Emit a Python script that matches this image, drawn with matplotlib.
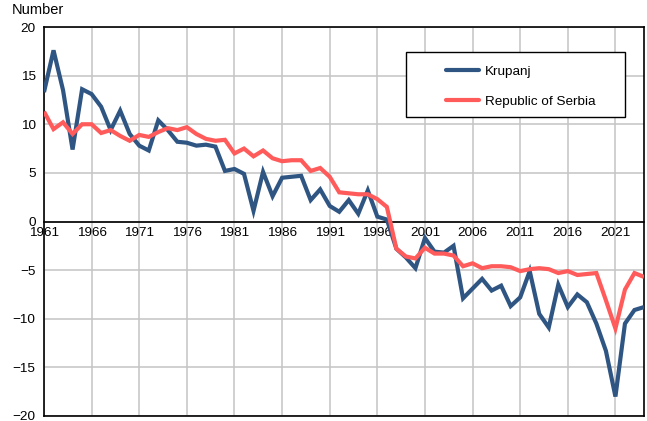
import numpy as np
import matplotlib
matplotlib.use("Agg")
import matplotlib.pyplot as plt
from matplotlib.patches import Rectangle

plt.rcParams["font.family"] = ["Liberation Sans", "DejaVu Sans"]

# ── Data ──────────────────────────────────────────────────────────────────────
years = list(range(1961, 2025))

krupanj = [
    13.3, 17.6, 13.5, 7.4, 13.6, 13.1, 11.8, 9.4, 11.4, 9.0,   # 1961-1970
    7.8, 7.3, 10.4, 9.4, 8.2, 8.1, 7.8, 7.9, 7.7, 5.2,         # 1971-1980
    5.4, 4.9, 1.1, 5.1, 2.6, 4.5, 4.6, 4.7, 2.2, 3.3,          # 1981-1990
    1.6, 1.0, 2.2, 0.8, 3.2, 0.5, 0.2, -2.8, -3.7, -4.8,       # 1991-2000
    -1.7, -3.1, -3.2, -2.5, -7.9, -6.9, -5.9, -7.1, -6.6, -8.7,  # 2001-2010
    -7.8, -5.1, -9.5, -10.9, -6.5, -8.8, -7.5, -8.3, -10.5, -13.3,  # 2011-2020
    -18.0, -10.5, -9.1, -8.8,                                    # 2021-2024
]

serbia = [
    11.3, 9.5, 10.2, 9.0, 10.0, 10.0, 9.1, 9.4, 8.8, 8.3,      # 1961-1970
    8.9, 8.7, 9.2, 9.6, 9.4, 9.7, 9.0, 8.5, 8.3, 8.4,          # 1971-1980
    7.0, 7.5, 6.7, 7.3, 6.5, 6.2, 6.3, 6.3, 5.2, 5.5,          # 1981-1990
    4.6, 3.0, 2.9, 2.8, 2.8, 2.3, 1.5, -2.8, -3.6, -3.8,       # 1991-2000
    -2.7, -3.3, -3.3, -3.5, -4.6, -4.3, -4.8, -4.6, -4.6, -4.7,  # 2001-2010
    -5.1, -4.9, -4.8, -4.9, -5.3, -5.1, -5.5, -5.4, -5.3, -8.1,  # 2011-2020
    -11.0, -7.0, -5.3, -5.7,                                     # 2021-2024
]

x_ticks = list(range(1961, 2025, 5))
y_ticks = list(range(-20, 25, 5))

C_KRUPANJ = "#2f5583"
C_SERBIA = "#ff5b5b"

# ── Plot ──────────────────────────────────────────────────────────────────────
fig = plt.figure(figsize=(6.47, 4.21), dpi=100)
ax = fig.add_axes([44 / 647, 5 / 421, 600 / 647, 389 / 421])

ax.plot(years, krupanj, color=C_KRUPANJ, lw=3.0, solid_joinstyle="miter",
        solid_capstyle="butt", label="Krupanj", zorder=3)
ax.plot(years, serbia, color=C_SERBIA, lw=3.0, solid_joinstyle="miter",
        solid_capstyle="butt", label="Republic of Serbia", zorder=4)

ax.set_xlim(1961, 2024)
ax.set_ylim(-20, 20)
ax.set_xticks(x_ticks)
ax.set_yticks(y_ticks)
ax.grid(True, color="#c4c4c4", lw=1.1, zorder=0)
ax.set_axisbelow(True)

# x labels sit on the zero line; keep a frame line at the bottom as well
ax.spines["bottom"].set_position(("data", 0))
ax.axhline(-20, color="black", lw=1.2, zorder=5, clip_on=False)
for s in ["left", "right", "top", "bottom"]:
    ax.spines[s].set_color("black")
    ax.spines[s].set_linewidth(1.2)
ax.tick_params(axis="both", length=0, labelsize=9.7, colors="black")
ax.tick_params(axis="x", pad=4)
ax.tick_params(axis="y", pad=6)

fig.text(12 / 647, 1 - 10 / 421, "Number", fontsize=10.5, va="center", ha="left")

# legend box
ax.add_patch(Rectangle((0.603, 0.769), 0.365, 0.167, transform=ax.transAxes,
                       facecolor="white", edgecolor="black", lw=1.0, zorder=6))
leg = ax.legend(loc="upper left", bbox_to_anchor=(0.655, 0.925), frameon=False,
                fontsize=9.7, handlelength=2.4, handletextpad=0.45,
                labelspacing=1.3, borderpad=0.2)
leg.set_zorder(7)
for h in leg.get_lines():
    h.set_linewidth(3.0)
    h.set_solid_capstyle("round")

fig.savefig("out.png", dpi=100)
